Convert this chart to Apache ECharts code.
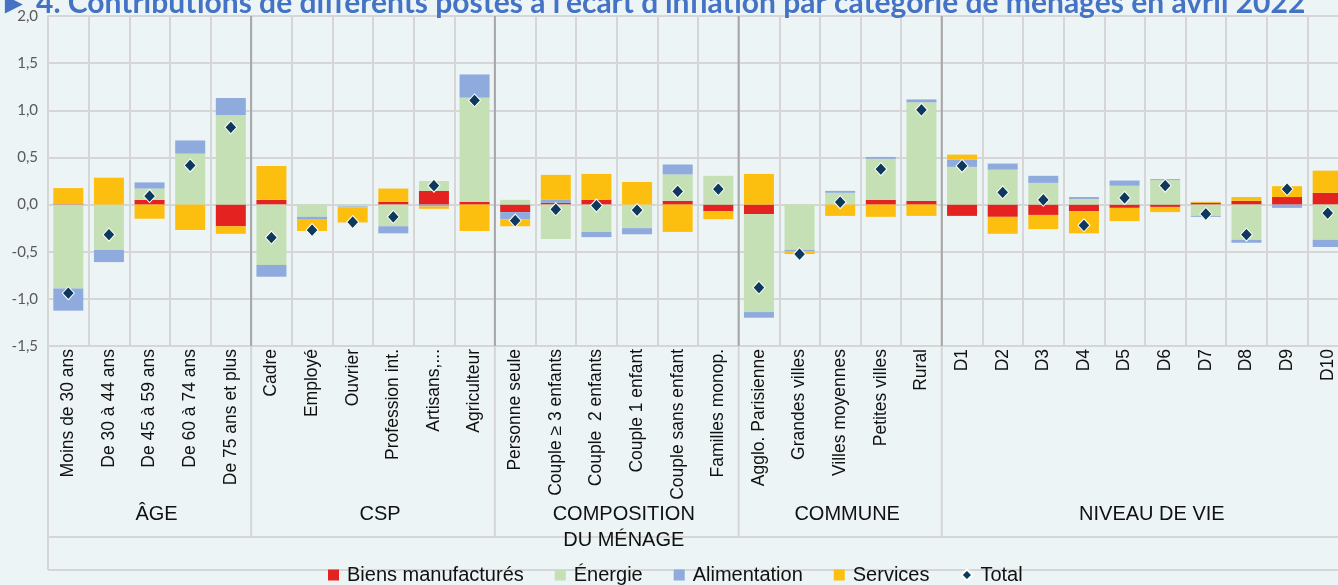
<!DOCTYPE html>
<html><head><meta charset="utf-8">
<script src="https://cdn.jsdelivr.net/npm/echarts@6/dist/echarts.min.js"></script>
<style>html,body{margin:0;padding:0;background:#ECF4F5;} #c{width:1338px;height:585px;}</style>
</head><body><div id="c"></div>
<script>
const categories = ['Moins de 30 ans','De 30 à 44 ans','De 45 à 59 ans','De 60 à 74 ans','De 75 ans et plus',
  'Cadre','Employé','Ouvrier','Profession int.','Artisans,...','Agriculteur',
  'Personne seule','Couple ≥ 3 enfants','Couple  2 enfants','Couple 1 enfant','Couple sans enfant','Familles monop.',
  'Agglo. Parisienne','Grandes villes','Villes moyennes','Petites villes','Rural',
  'D1','D2','D3','D4','D5','D6','D7','D8','D9','D10'];
const groupNames = ['ÂGE','CSP','COMPOSITION\nDU MÉNAGE','COMMUNE','NIVEAU DE VIE'];
const groupSizes = [5,6,6,5,10];
const seriesNames = ['Biens manufacturés','Énergie','Alimentation','Services','Total'];
const biens = [0.01,0,0.05,0,-0.23, 0.05,0,0,0.03,0.145,0.03, -0.08,0.02,0.05,0,0.04,-0.07, -0.10,0,0,0.05,0.04, -0.12,-0.13,-0.11,-0.07,-0.035,-0.025,0.02,0.04,0.08,0.125];
const energie = [-0.89,-0.48,0.12,0.54,0.95, -0.64,-0.13,-0.02,-0.23,0.105,1.105, 0.05,-0.365,-0.29,-0.25,0.28,0.305, -1.04,-0.48,0.125,0.435,1.045, 0.40,0.37,0.23,0.06,0.20,0.26,-0.12,-0.375,0,-0.375];
const alimentation = [-0.235,-0.13,0.065,0.14,0.18, -0.125,-0.03,-0.01,-0.075,-0.02,0.245, -0.075,0.03,-0.055,-0.065,0.105,0, -0.06,-0.015,0.02,0.02,0.03, 0.075,0.065,0.075,0.02,0.055,0.01,-0.01,-0.03,-0.035,-0.075];
const services = [0.165,0.285,-0.15,-0.27,-0.08, 0.36,-0.12,-0.16,0.14,-0.025,-0.28, -0.075,0.265,0.275,0.24,-0.29,-0.085, 0.325,-0.03,-0.12,-0.13,-0.12, 0.055,-0.18,-0.15,-0.235,-0.14,-0.055,0.01,0.04,0.115,0.235];
const total = [-0.94,-0.32,0.09,0.415,0.82, -0.35,-0.27,-0.185,-0.13,0.20,1.105, -0.17,-0.05,-0.01,-0.06,0.14,0.165, -0.88,-0.525,0.025,0.375,1.005, 0.41,0.13,0.05,-0.22,0.07,0.20,-0.10,-0.32,0.165,-0.09];
const yMin = -1.5, yMax = 2, yInterval = 0.5;
const titleText = '► 4. Contributions de différents postes à l’écart d’inflation par catégorie de ménages en avril 2022';

const colors = ['#E42320','#C5E0B4','#8FAADC','#FDBF0F','#0D3A5C'];
const chart = echarts.init(document.getElementById('c'));
const barData = [biens, energie, alimentation, services];
const FONT = 'Liberation Sans, Arial, sans-serif';
const option = {
  backgroundColor: '#ECF4F5',
  animation: false,
  title: {text: titleText, left: -1, top: -12, padding: 0,
    textStyle: {fontFamily: 'Lato, sans-serif', fontWeight: 'bold', fontSize: 30, color: '#4472C4'}},
  legend: {
    left: 328, top: 565, padding: 0, itemGap: 31, itemWidth: 11, itemHeight: 11,
    textStyle: {fontFamily: FONT, fontSize: 20, color: '#111', lineHeight: 20, padding: [0,0,0,3]},
    data: seriesNames.map((n, i) => ({name: n, icon: i === 4 ? 'diamond' : 'rect'}))
  },
  grid: {left: 48, top: 16, width: 1300, height: 330, containLabel: false, outerBoundsMode: 'none'},
  xAxis: {
    type: 'category', data: categories,
    axisLine: {show: true, onZero: false, lineStyle: {color: '#D6D6D6', width: 2}},
    axisTick: {show: false},
    splitLine: {show: true, lineStyle: {color: '#D6D6D6', width: 2}},
    axisLabel: {rotate: 90, interval: 0, margin: 3, fontFamily: FONT, fontSize: 17.5, color: '#111'}
  },
  yAxis: {
    type: 'value', min: yMin, max: yMax, interval: yInterval,
    axisLine: {show: true, lineStyle: {color: '#D6D6D6', width: 2}},
    splitLine: {lineStyle: {color: '#D6D6D6', width: 2}},
    axisLabel: {margin: 10, fontFamily: 'Lato, sans-serif', fontSize: 15, color: '#595959',
      formatter: v => v.toFixed(1).replace('.', ',')}
  },
  series: barData.map((d, i) => ({
    name: seriesNames[i], type: 'bar', stack: 'all', barWidth: 30, data: d,
    itemStyle: {color: colors[i]}
  })).concat([{
    name: seriesNames[4], type: 'scatter', data: total, symbol: 'diamond', symbolSize: [12, 13], z: 10,
    itemStyle: {color: colors[4], borderColor: '#fff', borderWidth: 1, opacity: 1}
  }])
};
chart.setOption(option);

// group separators, label-area box and group labels
const px = i => chart.convertToPixel({xAxisIndex: 0}, i);
const cw = px(1) - px(0);
const yTop = chart.convertToPixel({yAxisIndex: 0}, yMax);
const yBot = chart.convertToPixel({yAxisIndex: 0}, yMin);
const x0 = px(0) - cw / 2;
const xEnd = px(categories.length - 1) + cw / 2;
const rowLine = 537, boxBottom = 570;
const g = [];
const light = {stroke: '#D6D6D6', lineWidth: 2};
g.push({type: 'line', shape: {x1: x0, y1: yBot, x2: x0, y2: boxBottom}, style: light, z: 1});
g.push({type: 'line', shape: {x1: x0, y1: rowLine, x2: xEnd, y2: rowLine}, style: light, z: 1});
g.push({type: 'line', shape: {x1: x0, y1: boxBottom, x2: xEnd + 50, y2: boxBottom}, style: light, z: -1});
let cum = 0;
groupSizes.forEach((n, gi) => {
  const start = cum; cum += n;
  const cx = (px(start) + px(cum - 1)) / 2 + 7;
  g.push({type: 'text', x: cx, y: 501, style: {text: groupNames[gi], font: '20px ' + FONT, fill: '#111',
    textAlign: 'center', textVerticalAlign: 'top', lineHeight: 26}, z: 5});
  if (cum < categories.length) {
    const bx = px(cum) - cw / 2;
    g.push({type: 'line', shape: {x1: bx, y1: yTop, x2: bx, y2: yBot}, style: {stroke: '#A6A6A6', lineWidth: 2}, z: 3});
    g.push({type: 'line', shape: {x1: bx, y1: yBot, x2: bx, y2: rowLine}, style: light, z: 1});
  }
});
chart.setOption({graphic: g});
</script></body></html>
